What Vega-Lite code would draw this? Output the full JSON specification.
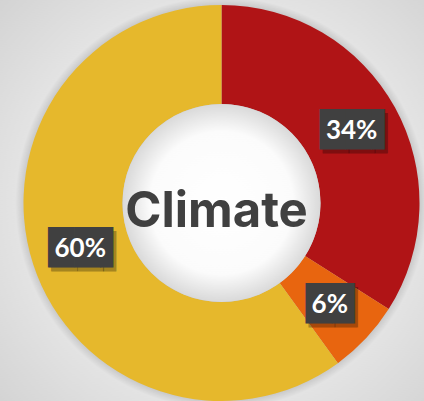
{
  "$schema": "https://vega.github.io/schema/vega-lite/v6.json",
  "width": 405,
  "height": 396,
  "padding": {"left": 19, "top": 5, "right": 0, "bottom": 0},
  "autosize": {"type": "none"},
  "config": {"view": {"stroke": null}, "background": "#d5d5d5"},
  "data": {"values": [
    {"label": "34%", "value": 34, "rank": 1},
    {"label": "6%", "value": 6, "rank": 2},
    {"label": "60%", "value": 60, "rank": 3}
  ]},
  "layer": [
    {
      "data": {"values": [{}]},
      "mark": {"type": "arc", "theta": 0, "theta2": 6.2832, "outerRadius": 300,
        "fill": {"gradient": "radial", "x1": 0.5, "y1": 0.5, "x2": 0.5, "y2": 0.5, "r1": 0, "r2": 0.5,
          "stops": [{"offset": 0.6, "color": "#e7e7e7"}, {"offset": 1, "color": "#d3d3d3"}]}},
      "encoding": {}
    },
    {
      "data": {"values": [{}]},
      "mark": {"type": "arc", "theta": 0, "theta2": 6.2832, "outerRadius": 206,
        "fill": {"gradient": "radial", "x1": 0.5, "y1": 0.5, "x2": 0.5, "y2": 0.5, "r1": 0, "r2": 0.5,
          "stops": [{"offset": 0.94, "color": "rgba(0,0,0,0.18)"}, {"offset": 1, "color": "rgba(0,0,0,0)"}]}},
      "encoding": {}
    },
    {
      "mark": {"type": "arc", "innerRadius": 99, "outerRadius": 198},
      "encoding": {
        "theta": {"field": "value", "type": "quantitative", "stack": true},
        "order": {"field": "rank", "type": "quantitative"},
        "color": {"field": "label", "type": "nominal",
          "scale": {"domain": ["34%", "6%", "60%"], "range": ["#b01416", "#e8650f", "#e6b82c"]},
          "legend": null}
      }
    },
    {
      "data": {"values": [{}]},
      "mark": {"type": "arc", "theta": 0, "theta2": 6.2832, "outerRadius": 99,
        "fill": {"gradient": "radial", "x1": 0.5, "y1": 0.5, "x2": 0.5, "y2": 0.5, "r1": 0, "r2": 0.5,
          "stops": [{"offset": 0, "color": "#ffffff"}, {"offset": 0.72, "color": "#fbfbfb"}, {"offset": 1, "color": "#d9d9d9"}]}},
      "encoding": {}
    },
    {
      "transform": [{"calculate": "datum.value >= 10 ? '██▌' : '█▉'", "as": "box"}],
      "mark": {"type": "text", "radius": 148.5, "font": "DejaVu Sans", "fontSize": 34, "align": "center", "baseline": "middle",
        "dx": {"expr": "datum.value >= 10 ? 10 : 5"}, "dy": 4, "fill": "rgba(0,0,0,0.3)"},
      "encoding": {
        "theta": {"field": "value", "type": "quantitative", "stack": true},
        "order": {"field": "rank", "type": "quantitative"},
        "text": {"field": "box"}
      }
    },
    {
      "transform": [{"calculate": "datum.value >= 10 ? '██▌' : '█▉'", "as": "box"}],
      "mark": {"type": "text", "radius": 148.5, "font": "DejaVu Sans", "fontSize": 34, "align": "center", "baseline": "middle",
        "dx": {"expr": "datum.value >= 10 ? 7 : 2"}, "fill": "#404040"},
      "encoding": {
        "theta": {"field": "value", "type": "quantitative", "stack": true},
        "order": {"field": "rank", "type": "quantitative"},
        "text": {"field": "box"}
      }
    },
    {
      "mark": {"type": "text", "radius": 148.5, "font": "Lato", "fontWeight": "bold", "fontSize": 26, "align": "center", "baseline": "middle", "fill": "#ffffff"},
      "encoding": {
        "theta": {"field": "value", "type": "quantitative", "stack": true},
        "order": {"field": "rank", "type": "quantitative"},
        "text": {"field": "label"}
      }
    },
    {
      "data": {"values": [{"title": "Climate"}]},
      "mark": {"type": "text", "font": "Inter", "fontWeight": "bold", "fontSize": 49, "align": "center", "baseline": "alphabetic", "dx": -5, "dy": 24, "fill": "#404040"},
      "encoding": {"text": {"field": "title"}}
    }
  ]
}
